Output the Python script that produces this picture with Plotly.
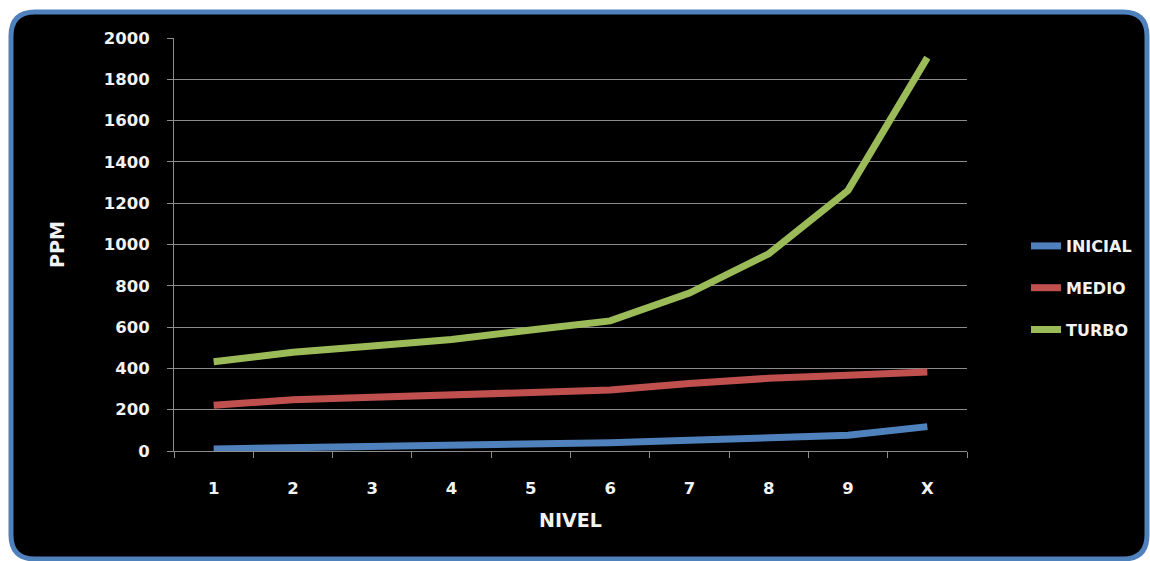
import plotly.graph_objects as go

categories = ["1", "2", "3", "4", "5", "6", "7", "8", "9", "X"]
inicial = [10, 15, 22, 30, 38, 40, 52, 62, 76, 118]
medio = [222, 248, 260, 270, 285, 295, 327, 352, 367, 382]
turbo = [432, 478, 508, 540, 586, 630, 765, 955, 1262, 1905]
y_ticks = list(range(0, 2001, 200))

colors = {"INICIAL": "#4F81BD", "MEDIO": "#C0504D", "TURBO": "#9BBB59"}

W, H = 1150, 561
L, R, T, B = 174, 967, 38, 451


def px2paper(x, y):
    return (x - L) / (R - L), (B - y) / (B - T)


def rounded_rect_path(x0, y0, x1, y1, r):
    def p(x, y):
        a, b = px2paper(x, y)
        return f"{a:.5f},{b:.5f}"

    s = f"M{p(x0 + r, y0)} L{p(x1 - r, y0)} Q{p(x1, y0)} {p(x1, y0 + r)} "
    s += f"L{p(x1, y1 - r)} Q{p(x1, y1)} {p(x1 - r, y1)} "
    s += f"L{p(x0 + r, y1)} Q{p(x0, y1)} {p(x0, y1 - r)} "
    s += f"L{p(x0, y0 + r)} Q{p(x0, y0)} {p(x0 + r, y0)} Z"
    return s


fig = go.Figure()
for name, vals in [("INICIAL", inicial), ("MEDIO", medio), ("TURBO", turbo)]:
    fig.add_trace(go.Scatter(
        x=categories, y=vals, name=name, mode="lines",
        line=dict(color=colors[name], width=7),
        legendgroup=name,
    ))

tick_font = dict(family="DejaVu Sans", size=16.5, color="#f2f2f2", weight="bold")
legend_font = dict(family="DejaVu Sans", size=16, color="#f2f2f2", weight="bold")
title_font = dict(family="DejaVu Sans", size=19, color="#f2f2f2", weight="bold")

fig.update_layout(
    width=W, height=H,
    margin=dict(l=L, r=W - R, t=T, b=H - B),
    paper_bgcolor="white",
    plot_bgcolor="#404040",
    font=tick_font,
    showlegend=True,
    legend=dict(
        x=(1026 - L) / (R - L), y=(B - 288) / (B - T), xanchor="left", yanchor="middle",
        xref="paper", yref="paper",
        bgcolor="rgba(0,0,0,0)", font=legend_font,
        tracegroupgap=18, itemwidth=30,
    ),
    xaxis=dict(
        type="category", range=[-0.5, 9.5],
        showline=True, linecolor="#8c8c8c", linewidth=1,
        ticks="outside", tickson="boundaries", ticklen=6, tickcolor="#8c8c8c",
        showgrid=False, tickfont=tick_font, ticklabelstandoff=22,
        title=dict(text="NIVEL", font=title_font, standoff=16),
    ),
    yaxis=dict(
        range=[0, 2000], tickvals=y_ticks,
        showline=True, linecolor="#8c8c8c", linewidth=1,
        ticks="outside", ticklen=6, tickcolor="#8c8c8c",
        showgrid=True, gridcolor="#8c8c8c", gridwidth=1,
        zeroline=False, tickfont=tick_font, ticklabelstandoff=14,
        title=dict(text="PPM", font=title_font, standoff=34),
    ),
    shapes=[dict(
        type="path", xref="paper", yref="paper", layer="below",
        path=rounded_rect_path(11, 12, 1147, 559, 24),
        fillcolor="black", line=dict(color="#4F81BD", width=5),
    )],
)

fig.write_html("out.html")
